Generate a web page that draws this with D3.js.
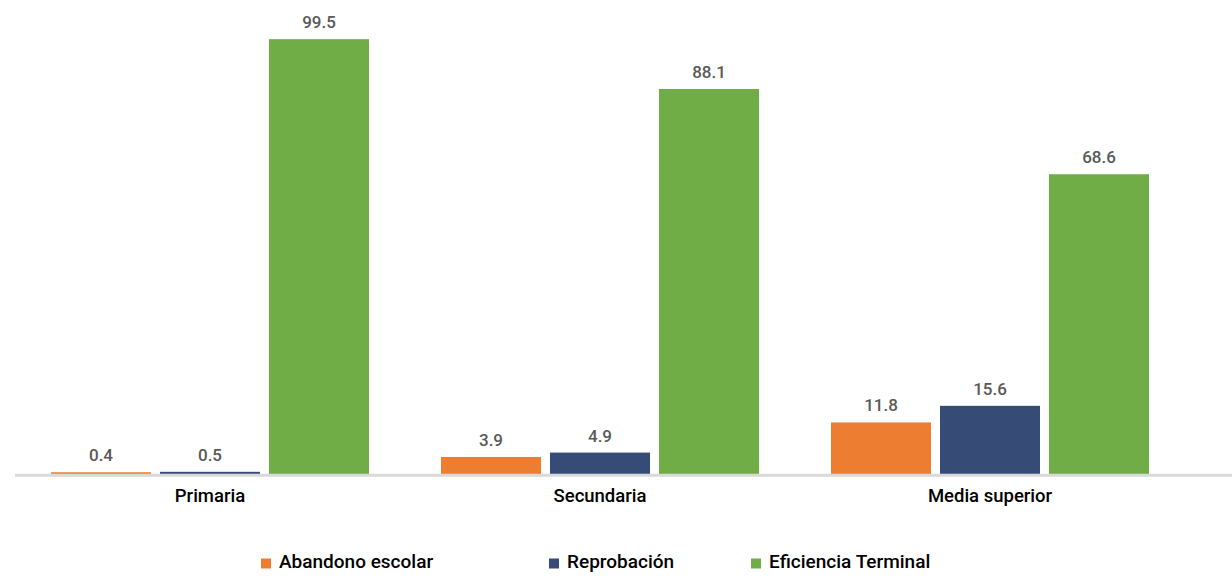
<!DOCTYPE html>
<html lang="es">
<head>
<meta charset="utf-8">
<script src="https://cdn.jsdelivr.net/npm/d3@7"></script>
<style>
  html, body { margin: 0; padding: 0; background: #ffffff; }
  svg { display: block; }
</style>
</head>
<body>
<svg id="chart" width="1232" height="576"></svg>
<script>
// Indicadores educativos por nivel (%)
const categories = ["Primaria", "Secundaria", "Media superior"];
const seriesNames = ["Abandono escolar", "Reprobación", "Eficiencia Terminal"];
const abandono = [0.4, 3.9, 11.8];
const reprobacion = [0.5, 4.9, 15.6];
const eficiencia = [99.5, 88.1, 68.6];
const seriesColors = ["#ED7D31", "#374B77", "#70AD47"];

const seriesValues = [abandono, reprobacion, eficiencia];
const rows = categories.map((c, i) => ({
  category: c,
  values: seriesNames.map((s, j) => ({ series: s, value: seriesValues[j][i], color: seriesColors[j] }))
}));

const svg = d3.select("#chart");
const fontFamily = "Roboto, 'Noto Sans', sans-serif";

const baseY = 474;
const x0 = d3.scaleBand().domain(categories).range([15, 1185]).paddingInner(0).paddingOuter(0);
const groupWidth = 318;
const x1 = d3.scaleBand().domain(seriesNames)
  .range([-groupWidth / 2, groupWidth / 2])
  .paddingInner(9 / 109).paddingOuter(0);
const y = d3.scaleLinear().domain([0, 100]).range([baseY, 37]);

// Bars and value labels
const groups = svg.append("g").selectAll("g")
  .data(rows).join("g")
  .attr("transform", d => `translate(${x0(d.category) + x0.bandwidth() / 2},0)`);

groups.selectAll("rect")
  .data(d => d.values).join("rect")
  .attr("x", d => x1(d.series))
  .attr("width", x1.bandwidth())
  .attr("y", d => y(d.value))
  .attr("height", d => baseY - y(d.value))
  .attr("fill", d => d.color);

groups.selectAll("text.value")
  .data(d => d.values).join("text")
  .attr("class", "value")
  .attr("x", d => x1(d.series) + x1.bandwidth() / 2)
  .attr("y", d => y(d.value) - 11)
  .attr("text-anchor", "middle")
  .attr("font-family", fontFamily)
  .attr("font-weight", 500)
  .attr("font-size", 17)
  .attr("fill", "#595959")
  .text(d => d3.format(".1f")(d.value));

// Category axis
const xAxis = d3.axisBottom(x0).tickSize(0).tickPadding(0);
const axisG = svg.append("g")
  .attr("transform", `translate(0,${baseY})`)
  .call(xAxis);
axisG.select(".domain").remove();
axisG.selectAll("text")
  .attr("y", 28)
  .attr("dy", 0)
  .attr("font-family", fontFamily)
  .attr("font-weight", 500)
  .attr("font-size", 18.5)
  .attr("fill", "#000000");

svg.append("line")
  .attr("x1", 15).attr("x2", 1232)
  .attr("y1", baseY + 1.2).attr("y2", baseY + 1.2)
  .attr("stroke", "#d9d9d9")
  .attr("stroke-width", 3);

// Legend
const legendX = [261, 549, 751];
const legend = svg.append("g").selectAll("g")
  .data(seriesNames).join("g")
  .attr("transform", (d, i) => `translate(${legendX[i]},558.5)`);
legend.append("rect")
  .attr("width", 10).attr("height", 10)
  .attr("fill", (d, i) => seriesColors[i]);
legend.append("text")
  .attr("x", 18).attr("y", 9.5)
  .attr("font-family", fontFamily)
  .attr("font-weight", 500)
  .attr("font-size", 19)
  .attr("fill", "#000000")
  .text(d => d);
</script>
</body>
</html>
